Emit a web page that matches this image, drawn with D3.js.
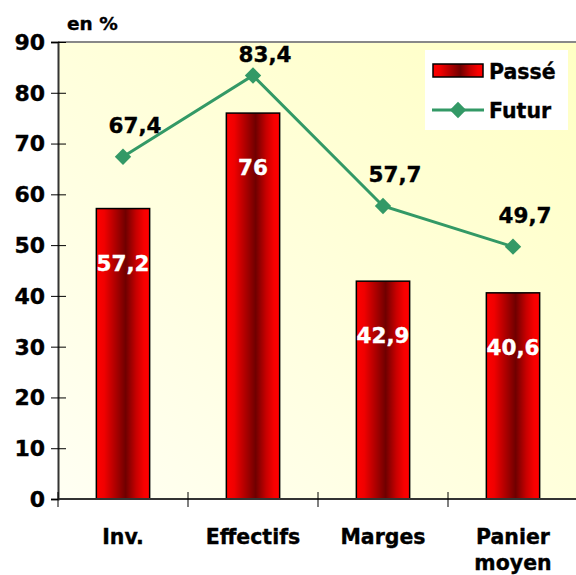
<!DOCTYPE html>
<html>
<head>
<meta charset="utf-8">
<script src="https://cdn.jsdelivr.net/npm/d3@7"></script>
<style>
  body { margin: 0; background: #fff; }
  text { font-family: "DejaVu Sans", Verdana, sans-serif; font-weight: bold; stroke-width: 0.35px; paint-order: stroke; }
</style>
</head>
<body>
<div id="chart"></div>
<script>
// data
const categories = [["Inv."], ["Effectifs"], ["Marges"], ["Panier", "moyen"]];
const passe = [57.2, 76, 42.9, 40.6];
const futur = [67.4, 83.4, 57.7, 49.7];
const yTicks = [0, 10, 20, 30, 40, 50, 60, 70, 80, 90];
const fmt = v => String(v).replace(".", ",");

const W = 576, H = 575;
const margin = { top: 42, right: -2, bottom: 76, left: 58 };
const width = W - margin.left - margin.right;
const height = H - margin.top - margin.bottom;

const svg = d3.select("#chart").append("svg")
    .attr("width", W).attr("height", H);

const defs = svg.append("defs");
const bg = defs.append("linearGradient").attr("id", "bg")
    .attr("x1", 0).attr("y1", 1).attr("x2", 1).attr("y2", 0);
bg.append("stop").attr("offset", 0).attr("stop-color", "#fffff3");
bg.append("stop").attr("offset", 1).attr("stop-color", "#ffffc4");

const barGrad = defs.append("linearGradient").attr("id", "barGrad")
    .attr("x1", 0).attr("y1", 0).attr("x2", 1).attr("y2", 0);
[[0, "#ff0000"], [0.15, "#f00000"], [0.35, "#b00000"], [0.55, "#700000"],
 [0.75, "#c80000"], [0.9, "#f80000"], [1, "#ff0000"]].forEach(s =>
    barGrad.append("stop").attr("offset", s[0]).attr("stop-color", s[1]));

const g = svg.append("g")
    .attr("transform", "translate(" + margin.left + "," + margin.top + ")");

// scales
const x = d3.scaleBand().domain(d3.range(categories.length)).range([0, width]);
const y = d3.scaleLinear().domain([0, 90]).range([height, 0]);
const barW = x.bandwidth() * 0.41;

// plot area
g.append("rect").attr("width", width).attr("height", height).attr("fill", "url(#bg)");
g.append("line").attr("x1", 0).attr("x2", width).attr("y1", 0).attr("y2", 0)
    .attr("stroke", "#888").attr("stroke-width", 2);

// bars
g.selectAll(".bar").data(passe).enter().append("rect")
    .attr("class", "bar")
    .attr("x", (d, i) => x(i) + (x.bandwidth() - barW) / 2)
    .attr("y", d => y(d))
    .attr("width", barW)
    .attr("height", d => height - y(d))
    .attr("fill", "url(#barGrad)")
    .attr("stroke", "#000").attr("stroke-width", 1.5);

// axes
const yAxis = g.append("g").call(d3.axisLeft(y).tickValues(yTicks).tickSize(7).tickFormat(""));
yAxis.select(".domain").attr("stroke", "#333").attr("stroke-width", 2);
yAxis.selectAll(".tick line").attr("x2", 8).attr("x1", -7).attr("stroke", "#000");
g.selectAll(".ylab").data(yTicks).enter().append("text")
    .attr("x", -13).attr("y", d => y(d)).attr("dy", "0.36em")
    .attr("text-anchor", "end").attr("font-size", 22)
    .attr("fill", "#000").attr("stroke", "#000").text(d => d);

g.append("line").attr("x1", 0).attr("x2", width).attr("y1", height).attr("y2", height)
    .attr("stroke", "#333").attr("stroke-width", 2);
g.selectAll(".xtick").data(d3.range(categories.length + 1)).enter().append("line")
    .attr("x1", i => i * x.step()).attr("x2", i => i * x.step())
    .attr("y1", height - 7).attr("y2", height + 8).attr("stroke", "#000");

g.selectAll(".xlab").data(categories).enter().append("text")
    .attr("text-anchor", "middle").attr("font-size", 20.5)
    .attr("fill", "#000").attr("stroke", "#000")
    .attr("transform", (d, i) => "translate(" + (x(i) + x.bandwidth() / 2) + "," + (height + 45) + ")")
    .selectAll("tspan").data(d => d).enter().append("tspan")
    .attr("x", 0).attr("dy", (d, j) => j ? 26 : 0).text(d => d);

// bar labels
g.selectAll(".blab").data(passe).enter().append("text")
    .attr("x", (d, i) => x(i) + x.bandwidth() / 2)
    .attr("y", d => y(d) + 62)
    .attr("text-anchor", "middle").attr("font-size", 21.5)
    .attr("fill", "#fff").attr("stroke", "#fff")
    .text(fmt);

// line
const line = d3.line().x((d, i) => x(i) + x.bandwidth() / 2).y(d => y(d));
g.append("path").datum(futur).attr("d", line)
    .attr("fill", "none").attr("stroke", "#339966").attr("stroke-width", 3);
const diamond = d3.symbol().type(d3.symbolDiamond2).size(170);
g.selectAll(".pt").data(futur).enter().append("path")
    .attr("d", diamond)
    .attr("transform", (d, i) => "translate(" + (x(i) + x.bandwidth() / 2) + "," + y(d) + ")")
    .attr("fill", "#339966");
g.selectAll(".flab").data(futur).enter().append("text")
    .attr("x", (d, i) => x(i) + x.bandwidth() / 2 + 12)
    .attr("y", d => Math.max(y(d) - 24, 20))
    .attr("text-anchor", "middle").attr("font-size", 21.5)
    .attr("fill", "#000").attr("stroke", "#000")
    .text(fmt);

// unit label
svg.append("text").attr("x", 67).attr("y", 30).attr("font-size", 18.5)
    .attr("fill", "#000").attr("stroke", "#000").text("en %");

// legend
const lg = svg.append("g").attr("transform", "translate(425,50)");
lg.append("rect").attr("width", 143).attr("height", 80).attr("fill", "#fff");
lg.append("rect").attr("x", 8).attr("y", 14).attr("width", 50).attr("height", 13)
    .attr("fill", "url(#barGrad)").attr("stroke", "#000").attr("stroke-width", 1.5);
lg.append("text").attr("x", 64).attr("y", 29).attr("font-size", 20.5)
    .attr("fill", "#000").attr("stroke", "#000").text("Passé");
lg.append("line").attr("x1", 7).attr("x2", 59).attr("y1", 60).attr("y2", 60)
    .attr("stroke", "#339966").attr("stroke-width", 3);
lg.append("path").attr("d", diamond).attr("transform", "translate(33,60)").attr("fill", "#339966");
lg.append("text").attr("x", 64).attr("y", 68).attr("font-size", 20.5)
    .attr("fill", "#000").attr("stroke", "#000").text("Futur");
</script>
</body>
</html>
